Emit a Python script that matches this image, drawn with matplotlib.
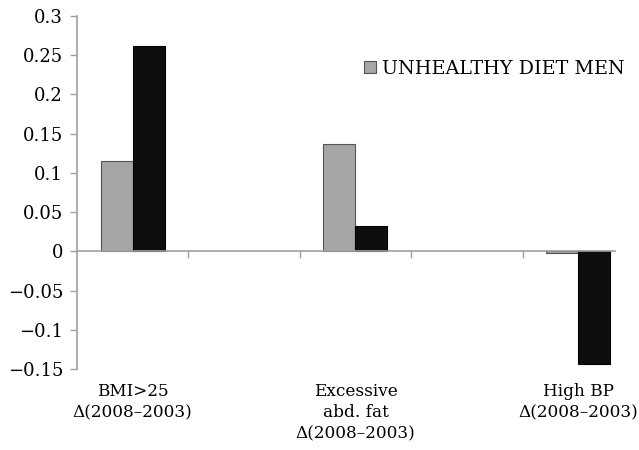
import matplotlib
matplotlib.use('Agg')
import matplotlib.pyplot as plt
import numpy as np

# 5 category slots, only 3 labelled (the chart has two empty slots)
categories = ['BMI>25\n\u0394(2008\u20132003)', '', 'Excessive\nabd. fat\n\u0394(2008\u20132003)', '', 'High BP\n\u0394(2008\u20132003)']
gray_vals = [0.115, np.nan, 0.137, np.nan, -0.002]
black_vals = [0.262, np.nan, 0.032, np.nan, -0.143]
gray_label = 'UNHEALTHY DIET MEN'
y_ticks = [-0.15, -0.1, -0.05, 0, 0.05, 0.1, 0.15, 0.2, 0.25, 0.3]
y_ticklabels = ['\u22120.15', '\u22120.1', '\u22120.05', '0', '0.05', '0.1', '0.15', '0.2', '0.25', '0.3']

plt.rcParams['font.family'] = ['DejaVu Serif']

fig = plt.figure(figsize=(6.39, 4.5), dpi=100)
ax = fig.add_axes([77 / 639, 1 - 369 / 450, (615 - 77) / 639, (369 - 16) / 450])

x = np.arange(len(categories))
w = 0.287
axis_col = '#a0a0a0'

ax.bar(x - w / 2, gray_vals, w, color='#a6a6a6', edgecolor='#555555', linewidth=0.8, label=gray_label)
ax.bar(x + w / 2, black_vals, w, color='#0e0e0e', edgecolor='#000000', linewidth=0.8)

ax.set_xlim(-0.5, 4.33)
ax.set_ylim(-0.15, 0.3)

# x axis line at zero with tick marks between categories
ax.spines['bottom'].set_position(('data', 0))
ax.spines['bottom'].set_color(axis_col)
ax.spines['bottom'].set_linewidth(1.2)
ax.spines['left'].set_color(axis_col)
ax.spines['left'].set_linewidth(1.2)
ax.spines['top'].set_visible(False)
ax.spines['right'].set_visible(False)

ax.set_xticks(x[:-1] + 0.5)
ax.set_xticklabels([])
ax.tick_params(axis='x', direction='out', length=5, color=axis_col, width=1)

ax.set_yticks(y_ticks)
ax.set_yticklabels(y_ticklabels, fontsize=13)
ax.tick_params(axis='y', direction='out', length=5, color=axis_col, width=1, pad=5)

for xi, lab in zip(x, categories):
    if lab:
        ax.text(xi, -0.168, lab, transform=ax.transData, ha='center', va='top',
                fontsize=12.2, linespacing=1.3, clip_on=False)

ax.legend(loc='center left', bbox_to_anchor=(364 / 639, 1 - 69 / 450),
          bbox_transform=fig.transFigure, frameon=False, fontsize=13.8,
          handlelength=0.6, handleheight=0.6, handletextpad=0.35, borderpad=0,
          borderaxespad=0)

fig.savefig('out.png', dpi=100)
